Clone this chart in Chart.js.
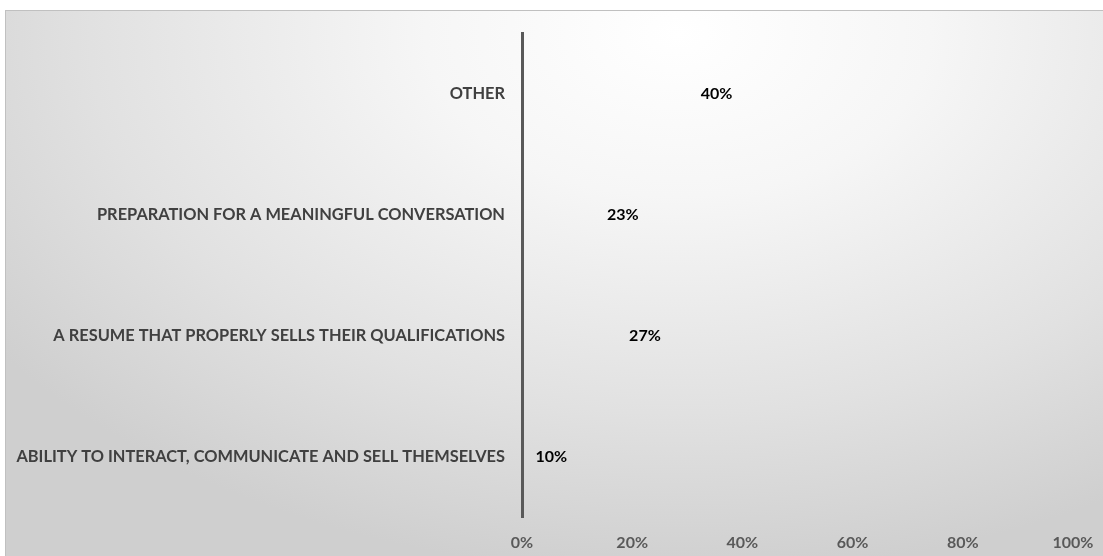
<!DOCTYPE html>
<html>
<head>
<meta charset="utf-8">
<script src="https://cdn.jsdelivr.net/npm/chart.js@4"></script>
<style>
    html, body { margin: 0; padding: 0; background: #ffffff; overflow: hidden; }
    #frame {
        position: absolute; left: 5px; top: 10px; width: 1120px; height: 570px;
        border: 1px solid #c0c0c0;
        background: radial-gradient(ellipse 75% 95% at 60% 4%, #ffffff 0%, #f6f6f6 30%, #e1e1e1 70%, #cfcfcf 100%);
    }
    #myChart { position: absolute; left: 0; top: 0; }
</style>
</head>
<body>
<div id="frame"></div>
<canvas id="myChart" width="1103" height="556"></canvas>
<script>
var categories = [
    'OTHER',
    'PREPARATION FOR A MEANINGFUL CONVERSATION',
    'A RESUME THAT PROPERLY SELLS THEIR QUALIFICATIONS',
    'ABILITY TO INTERACT, COMMUNICATE AND SELL THEMSELVES'
];
var values = [40, 23, 27, 10];
var tickValues = [0, 20, 40, 60, 80, 100];

var labelFont = 'Lato, "Open Sans", sans-serif';

// labels drawn at the inside end of the (invisible) bars
var valueLabels = {
    id: 'valueLabels',
    afterDatasetsDraw: function (chart) {
        var ctx = chart.ctx;
        var meta = chart.getDatasetMeta(0);
        ctx.save();
        ctx.font = 'bold 16px ' + labelFont;
        ctx.fillStyle = '#000000';
        ctx.textAlign = 'right';
        ctx.textBaseline = 'middle';
        meta.data.forEach(function (bar, i) {
            var p = bar.getProps(['x', 'y'], true);
            ctx.fillText(values[i] + '%', p.x - 10, p.y);
        });
        ctx.restore();
    }
};

var ctx = document.getElementById('myChart').getContext('2d');

new Chart(ctx, {
    type: 'bar',
    data: {
        labels: categories,
        datasets: [{
            data: values,
            backgroundColor: 'rgba(0,0,0,0)',
            borderWidth: 0
        }]
    },
    options: {
        indexAxis: 'y',
        responsive: false,
        animation: false,
        events: [],
        layout: {
            padding: { left: 6, right: 30, top: 33, bottom: 0 }
        },
        scales: {
            x: {
                min: 0,
                max: 100,
                afterBuildTicks: function (scale) {
                    scale.ticks = tickValues.map(v => ({ value: v }));
                },
                afterFit: function (scale) {
                    scale.height = 39;
                },
                grid: { display: false },
                border: { display: false },
                ticks: {
                    color: '#595959',
                    padding: 8,
                    maxRotation: 0,
                    font: { family: labelFont, size: 16, weight: 'bold' },
                    callback: function (v) { return v + '%'; }
                }
            },
            y: {
                afterFit: function (scale) {
                    scale.width = 516;
                },
                grid: { display: false },
                border: { display: true, color: '#595959', width: 3 },
                ticks: {
                    color: '#404040',
                    padding: 9,
                    font: { family: labelFont, size: 16.4, weight: 'bold' }
                }
            }
        },
        plugins: {
            legend: { display: false },
            tooltip: { enabled: false }
        }
    },
    plugins: [valueLabels]
});
</script>
</body>
</html>
